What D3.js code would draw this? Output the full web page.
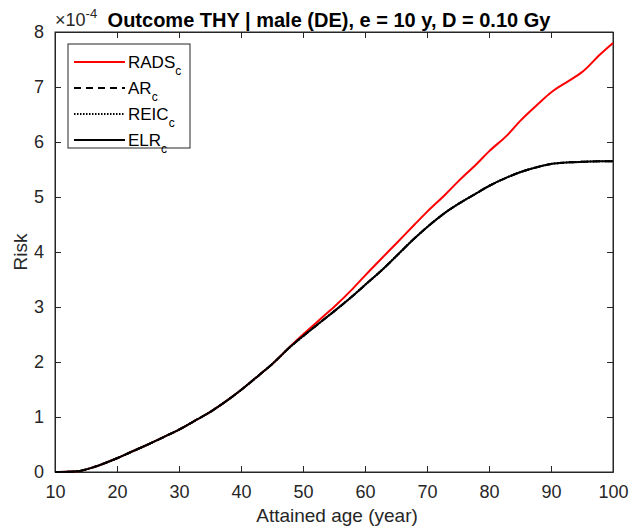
<!DOCTYPE html>
<html>
<head>
<meta charset="utf-8">
<script src="https://cdn.jsdelivr.net/npm/d3@7"></script>
<style>
  html, body { margin: 0; padding: 0; background: #fff; }
  svg { display: block; font-family: "Liberation Sans", Arial, sans-serif; }
</style>
</head>
<body>
<svg id="chart" width="639" height="528"></svg>
<script>
// Attained age (years)
const ages = [10, 12, 14, 16, 18, 20, 22, 25, 28, 30, 33, 35, 38, 40, 43, 45, 48, 50,
  53, 55, 58, 60, 63, 65, 68, 70, 73, 75, 78, 80, 83, 85, 88, 90, 93, 95, 98, 100];

// Risk values in units of 1e-4
const radsC = [0, 0.003, 0.02, 0.08, 0.16, 0.25, 0.35, 0.5, 0.66, 0.77, 0.96, 1.09, 1.32, 1.49,
  1.77, 1.96, 2.29, 2.5, 2.8, 3.0, 3.33, 3.57, 3.92, 4.15, 4.5, 4.73, 5.05, 5.28, 5.6, 5.83,
  6.13, 6.38, 6.7, 6.9, 7.12, 7.27, 7.6, 7.8];
const elrC = [0, 0.003, 0.02, 0.08, 0.16, 0.25, 0.35, 0.5, 0.66, 0.77, 0.96, 1.09, 1.32, 1.49,
  1.77, 1.96, 2.28, 2.47, 2.74, 2.92, 3.2, 3.4, 3.7, 3.92, 4.25, 4.45, 4.72, 4.87, 5.07, 5.2,
  5.36, 5.45, 5.55, 5.6, 5.63, 5.64, 5.65, 5.65];
const arC = elrC.slice();
const reicC = elrC.slice();

const xTicks = [10, 20, 30, 40, 50, 60, 70, 80, 90, 100];
const yTicks = [0, 1, 2, 3, 4, 5, 6, 7, 8];

const legendItems = [
  { name: "RADS", sub: "c", values: radsC, color: "#ff0000", dash: null, width: 2 },
  { name: "AR", sub: "c", values: arC, color: "#000000", dash: "7,5", width: 2 },
  { name: "REIC", sub: "c", values: reicC, color: "#000000", dash: "1.5,1.5", width: 2 },
  { name: "ELR", sub: "c", values: elrC, color: "#000000", dash: null, width: 2 }
];

const svg = d3.select("#chart");
const plotL = 55, plotR = 613, plotT = 32, plotB = 472;
const axisColor = "#262626";

const x = d3.scaleLinear().domain([10, 100]).range([plotL, plotR]);
const y = d3.scaleLinear().domain([0, 8]).range([plotB, plotT]);

// Axes with inward ticks, mirrored on top and right
const tickLen = 6;
const xAxis = svg.append("g").attr("transform", `translate(0,${plotB})`)
  .call(d3.axisBottom(x).tickValues(xTicks).tickSizeInner(-tickLen).tickSizeOuter(0).tickPadding(13));
const xTop = svg.append("g").attr("transform", `translate(0,${plotT})`)
  .call(d3.axisTop(x).tickValues(xTicks).tickSizeInner(-tickLen).tickSizeOuter(0).tickFormat(""));
const yAxis = svg.append("g").attr("transform", `translate(${plotL},0)`)
  .call(d3.axisLeft(y).tickValues(yTicks).tickSizeInner(-tickLen).tickSizeOuter(0).tickPadding(11));
const yRight = svg.append("g").attr("transform", `translate(${plotR},0)`)
  .call(d3.axisRight(y).tickValues(yTicks).tickSizeInner(-tickLen).tickSizeOuter(0).tickFormat(""));

[xAxis, xTop, yAxis, yRight].forEach(g => {
  g.select(".domain").attr("stroke", axisColor).attr("stroke-width", 1);
  g.selectAll(".tick line").attr("stroke", axisColor);
  g.selectAll(".tick text").attr("fill", axisColor)
    .attr("font-size", 18).attr("font-family", "Liberation Sans, Arial, sans-serif");
});

// Plot box edges
svg.append("rect").attr("x", plotL).attr("y", plotT)
  .attr("width", plotR - plotL).attr("height", plotB - plotT)
  .attr("fill", "none").attr("stroke", axisColor).attr("stroke-width", 1);

// Curves: red first, the three coinciding black curves over it
const line = d3.line().x((d, i) => x(ages[i])).y(d => y(d)).curve(d3.curveMonotoneX);
legendItems.forEach(s => {
  svg.append("path").datum(s.values)
    .attr("d", line)
    .attr("fill", "none")
    .attr("stroke", s.color)
    .attr("stroke-width", s.width)
    .attr("stroke-dasharray", s.dash);
});

// Exponent label
const expo = svg.append("text").attr("x", plotL).attr("y", 26)
  .attr("font-size", 18).attr("fill", axisColor);
expo.append("tspan").text("\u00d710");
expo.append("tspan").attr("dy", -8).attr("font-size", 13).text("-4");

// Title
svg.append("text").attr("x", 329).attr("y", 27)
  .attr("text-anchor", "middle").attr("font-size", 20).attr("font-weight", "bold")
  .attr("fill", "#000").text("Outcome THY | male (DE), e = 10 y, D = 0.10 Gy");

// Axis titles
svg.append("text").attr("x", 337).attr("y", 522)
  .attr("text-anchor", "middle").attr("font-size", 19).attr("fill", axisColor)
  .text("Attained age (year)");
svg.append("text").attr("transform", `translate(27,${(plotT + plotB) / 2}) rotate(-90)`)
  .attr("text-anchor", "middle").attr("font-size", 19).attr("fill", axisColor)
  .text("Risk");

// Legend
const lg = svg.append("g");
lg.append("rect").attr("x", 68).attr("y", 44).attr("width", 122).attr("height", 104)
  .attr("fill", "#fff").attr("stroke", axisColor).attr("stroke-width", 1);
const rowY = [62, 88, 114, 140];
legendItems.forEach((s, i) => {
  lg.append("line").attr("x1", 74).attr("x2", 125).attr("y1", rowY[i]).attr("y2", rowY[i])
    .attr("stroke", s.color).attr("stroke-width", s.width).attr("stroke-dasharray", s.dash);
  const t = lg.append("text").attr("x", 128).attr("y", rowY[i] + 6)
    .attr("font-size", 17).attr("fill", "#000");
  t.append("tspan").text(s.name);
  t.append("tspan").attr("dy", 7).attr("font-size", 12).text(s.sub);
});
</script>
</body>
</html>
